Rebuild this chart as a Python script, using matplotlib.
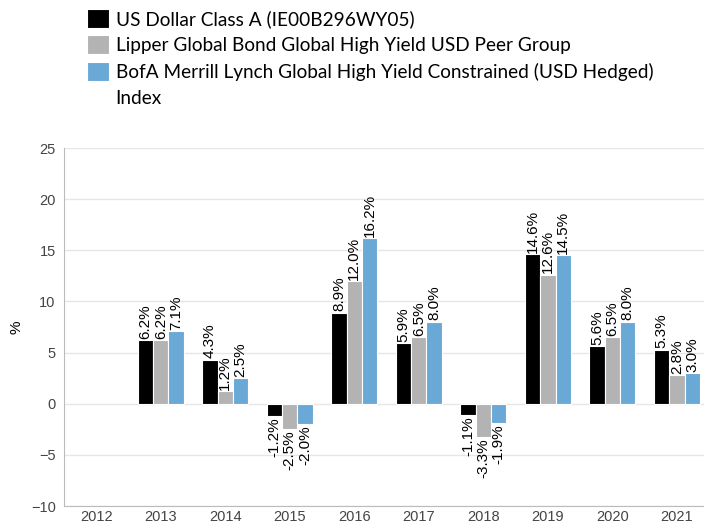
import numpy as np
from matplotlib import pyplot as plt

years = ["2012", "2013", "2014", "2015", "2016", "2017", "2018", "2019", "2020", "2021"]
class_a = [np.nan, 6.2, 4.3, -1.2, 8.9, 5.9, -1.1, 14.6, 5.6, 5.3]
peer_group = [np.nan, 6.2, 1.2, -2.5, 12.0, 6.5, -3.3, 12.6, 6.5, 2.8]
index_vals = [np.nan, 7.1, 2.5, -2.0, 16.2, 8.0, -1.9, 14.5, 8.0, 3.0]

series_names = [
    "US Dollar Class A (IE00B296WY05)",
    "Lipper Global Bond Global High Yield USD Peer Group",
    "BofA Merrill Lynch Global High Yield Constrained (USD Hedged)",
]
colors = ["#000000", "#b3b3b3", "#6aa8d6"]

fig = plt.figure(figsize=(7.04, 5.26), dpi=100)
ax = fig.add_axes([64 / 704, 20 / 526, 640 / 704, 358 / 526])

x = np.arange(len(years))
width = 0.237
for i, (vals, color, name) in enumerate(zip([class_a, peer_group, index_vals], colors, series_names)):
    bars = ax.bar(x + (i - 1) * width, vals, width, color=color, edgecolor="white",
                  linewidth=0.8, label=name, zorder=3)
    labels = ["" if np.isnan(v) else f"{v:.1f}%" for v in vals]
    ax.bar_label(bars, labels=labels, rotation=90, padding=1, fontsize=11,
                 family="Liberation Sans", color="black")

ax.set_xlim(-0.5, 9.42)
ax.set_ylim(-10, 25)
ax.set_yticks(range(-10, 30, 5))
ax.set_xticks(x)
ax.set_xticklabels(years)
ax.tick_params(axis="y", length=0, labelsize=10.5, labelcolor="#444444", pad=6)
ax.tick_params(axis="x", length=0, labelsize=10.5, labelcolor="#444444", pad=3)
for lab in ax.get_xticklabels() + ax.get_yticklabels():
    lab.set_family("Liberation Sans")
ax.grid(axis="y", color="#e6e6e6", linewidth=1, zorder=0)
for side in ["top", "right"]:
    ax.spines[side].set_visible(False)
ax.spines["left"].set_color("#bbbbbb")
ax.spines["bottom"].set_color("#bbbbbb")
ax.set_ylabel("%", fontsize=11, family="Liberation Sans", labelpad=5)

fig.legend(loc="upper left", bbox_to_anchor=(87 / 704, 1 - 9 / 526), frameon=False,
           prop={"family": "Lato", "size": 13.7}, handlelength=1.15, handleheight=1.15,
           handletextpad=0.38, labelspacing=0.4, borderaxespad=0, borderpad=0)
# second line of the last legend label, kept under its first line like the original
fig.text(115 / 704, 1 - 98 / 526, "Index", family="Lato", fontsize=13.7, va="center", ha="left")

fig.savefig("out.png", dpi=100)
